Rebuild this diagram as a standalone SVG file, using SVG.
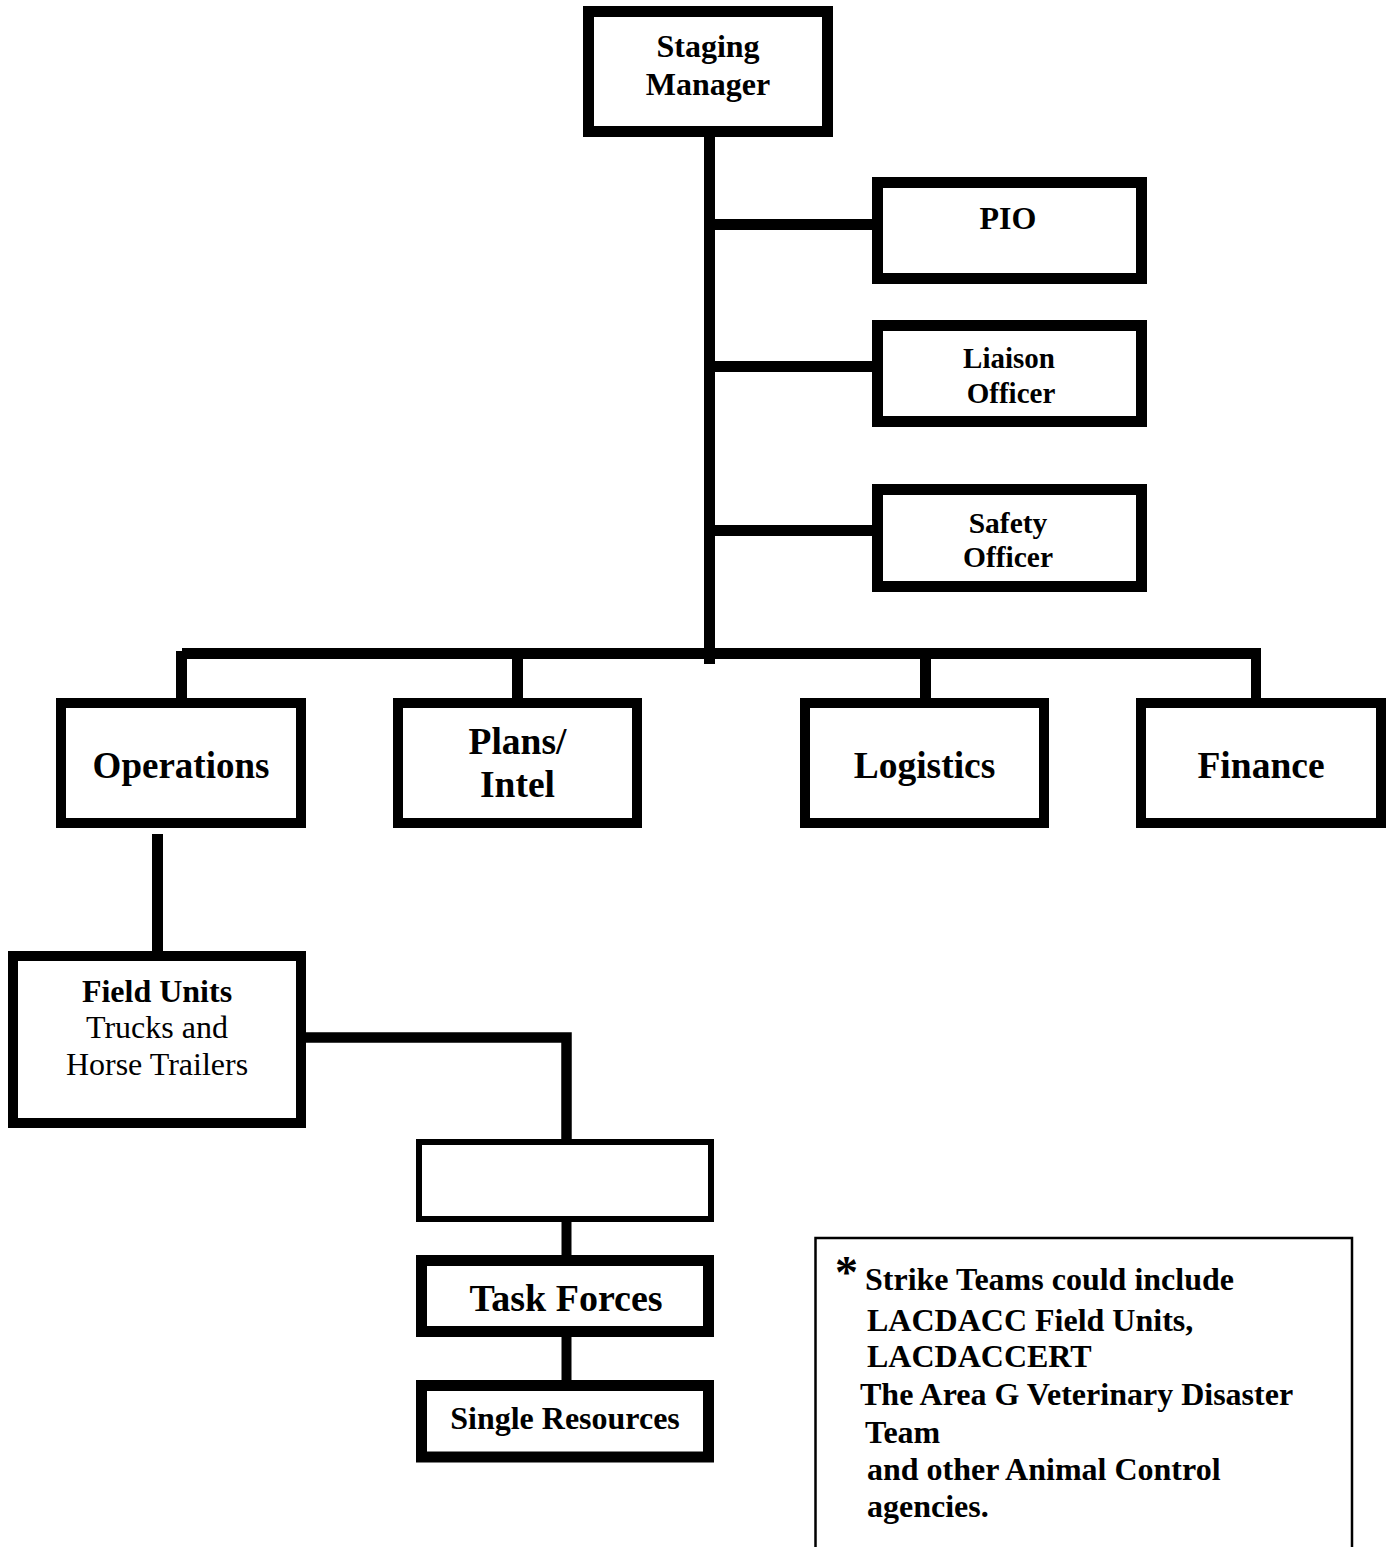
<svg xmlns="http://www.w3.org/2000/svg" width="1390" height="1547" viewBox="0 0 1390 1547">
  <style>
    .box { fill: #fff; stroke: #000; stroke-width: 11; }
    .box10 { fill: #fff; stroke: #000; stroke-width: 10; }
    .thin { fill: #fff; stroke: #000; stroke-width: 6; }
    .wire { fill: none; stroke: #000; stroke-linecap: butt; stroke-linejoin: miter; }
    text { font-family: "Liberation Serif", "Times New Roman", serif; fill: #000; text-anchor: middle; }
    .b { font-weight: bold; }
    .note { font-family: "Liberation Serif", "Times New Roman", serif; font-weight: bold; font-size: 32px; text-anchor: start; }
    .star { font-size: 46px; }
  </style>

  <rect x="0" y="0" width="1390" height="1547" fill="#fff"/>

  <!-- connecting lines -->
  <g id="connectors" class="wire">
    <!-- trunk from the Staging Manager down to the section bar -->
    <line x1="709.5" y1="137" x2="709.5" y2="664" stroke-width="11"/>
    <!-- command staff branches -->
    <line x1="715" y1="224.5" x2="872" y2="224.5" stroke-width="11"/>
    <line x1="715" y1="366.5" x2="872" y2="366.5" stroke-width="11"/>
    <line x1="715" y1="530.5" x2="872" y2="530.5" stroke-width="11"/>
    <!-- section bar and drops -->
    <line x1="182" y1="653.5" x2="1261" y2="653.5" stroke-width="11"/>
    <line x1="181.5" y1="651" x2="181.5" y2="699" stroke-width="11"/>
    <line x1="517.5" y1="659" x2="517.5" y2="699" stroke-width="11"/>
    <line x1="925.5" y1="659" x2="925.5" y2="699" stroke-width="11"/>
    <line x1="1256" y1="648" x2="1256" y2="699" stroke-width="10"/>
    <!-- Operations to Field Units -->
    <line x1="157.5" y1="834" x2="157.5" y2="952" stroke-width="11"/>
    <!-- Field Units to the strike team chain -->
    <path d="M306 1037.5 H566.5 V1140" stroke-width="10.5"/>
    <line x1="566.5" y1="1221" x2="566.5" y2="1256" stroke-width="10"/>
    <line x1="566.5" y1="1336" x2="566.5" y2="1381" stroke-width="10"/>
  </g>

  <g id="staging-manager">
    <rect class="box" x="588.5" y="11.5" width="239" height="120"/>
    <text class="b" x="708" y="57" font-size="32">Staging</text>
    <text class="b" x="708" y="95" font-size="32">Manager</text>
  </g>

  <g id="pio">
    <rect class="box" x="877.5" y="182.5" width="264" height="96"/>
    <text class="b" x="1008" y="229" font-size="32">PIO</text>
  </g>

  <g id="liaison-officer">
    <rect class="box" x="877.5" y="325.5" width="264" height="96"/>
    <text class="b" x="1009" y="368" font-size="29">Liaison</text>
    <text class="b" x="1011" y="403" font-size="29">Officer</text>
  </g>

  <g id="safety-officer">
    <rect class="box" x="877.5" y="489.5" width="264" height="97"/>
    <text class="b" x="1008" y="533" font-size="29.5">Safety</text>
    <text class="b" x="1008" y="567" font-size="29.5">Officer</text>
  </g>

  <g id="operations">
    <rect class="box10" x="61" y="703" width="240" height="120"/>
    <text class="b" x="181" y="778" font-size="37">Operations</text>
  </g>

  <g id="plans-intel">
    <rect class="box10" x="398" y="703" width="239" height="120"/>
    <text class="b" x="517.5" y="754" font-size="37.5">Plans/</text>
    <text class="b" x="517.5" y="797" font-size="37.5">Intel</text>
  </g>

  <g id="logistics">
    <rect class="box10" x="805" y="703" width="239" height="120"/>
    <text class="b" x="924.5" y="778" font-size="37.5">Logistics</text>
  </g>

  <g id="finance">
    <rect class="box10" x="1141" y="703" width="240" height="120"/>
    <text class="b" x="1261" y="778" font-size="37.5">Finance</text>
  </g>

  <g id="field-units">
    <rect class="box10" x="13" y="956" width="288" height="167"/>
    <text class="b" x="157" y="1002" font-size="32">Field Units</text>
    <text x="157" y="1038" font-size="32">Trucks and</text>
    <text x="157" y="1075" font-size="32">Horse Trailers</text>
  </g>

  <g id="strike-teams">
    <rect class="thin" x="419" y="1142" width="292" height="77"/>
  </g>

  <g id="task-forces">
    <rect class="box" x="421.5" y="1260.5" width="287" height="71"/>
    <text class="b" x="566" y="1311" font-size="38">Task Forces</text>
  </g>

  <g id="single-resources">
    <rect class="box" x="421.5" y="1385.5" width="287" height="71.5"/>
    <text class="b" x="565" y="1429" font-size="32">Single Resources</text>
  </g>

  <g id="strike-team-note">
    <path d="M815.5 1547 V1238 H1352 V1547" fill="none" stroke="#000" stroke-width="2.5"/>
    <text class="note star" x="835" y="1288">*</text>
    <text class="note" x="865" y="1290">Strike Teams could include</text>
    <text class="note" x="867" y="1331">LACDACC Field Units,</text>
    <text class="note" x="867" y="1367">LACDACCERT</text>
    <text class="note" x="860" y="1405">The Area G Veterinary Disaster</text>
    <text class="note" x="865" y="1443">Team</text>
    <text class="note" x="867" y="1480">and other Animal Control</text>
    <text class="note" x="867" y="1517">agencies.</text>
  </g>
</svg>
